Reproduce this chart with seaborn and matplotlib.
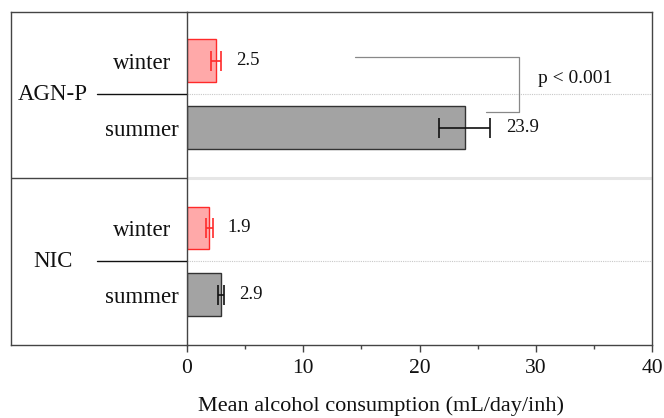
import numpy as np
import pandas as pd
import matplotlib
matplotlib.use("Agg")
import matplotlib.pyplot as plt
import seaborn as sns

# Data
groups = ["AGN-P", "AGN-P", "NIC", "NIC"]
seasons = ["winter", "summer", "winter", "summer"]
means = [2.5, 23.9, 1.9, 2.9]
errors = [0.4, 2.2, 0.3, 0.25]
group_names = ["AGN-P", "NIC"]
xticks = [0, 10, 20, 30, 40]
p_label = "p < 0.001"
xlabel = "Mean alcohol consumption (mL/day/inh)"

sns.set_theme(style="white")
plt.rcParams["font.family"] = ["Liberation Serif", "DejaVu Serif"]
plt.rcParams["mathtext.fontset"] = "stix"

# slot positions: two bars per group, a wider gap between groups
group_gap = 2.5
pos = [group_names.index(g) * group_gap + (0 if s == "winter" else 1)
       for g, s in zip(groups, seasons)]
df = pd.DataFrame({"group": groups, "season": seasons, "mean": means,
                   "err": errors, "pos": pos})

fill = {"winter": "#ffa9a9", "summer": "#a3a3a3"}
edge = {"winter": "#ff2a2a", "summer": "#333333"}
ecol = {"winter": "#ff2a2a", "summer": "#111111"}
spine_c = "#444444"

W, H = 664, 418
fig = plt.figure(figsize=(W / 100, H / 100), dpi=100)
x0, x1, y0, y1 = 187, 652, 12, 345
xl = 11
ax = fig.add_axes([x0 / W, 1 - y1 / H, (x1 - x0) / W, (y1 - y0) / H])
lax = fig.add_axes([xl / W, 1 - y1 / H, (x0 - xl) / W, (y1 - y0) / H])

sns.barplot(data=df, x="mean", y="pos", hue="season", orient="h",
            native_scale=True, dodge=False, width=0.64, errorbar=None,
            hue_order=["winter", "summer"], palette=fill, legend=False,
            linewidth=1.0, ax=ax)
for cont, s in zip(ax.containers, ["winter", "summer"]):
    for patch in cont:
        patch.set_edgecolor(edge[s])
        patch.set_facecolor(fill[s])

for _, r in df.iterrows():
    ax.errorbar(r["mean"], r["pos"], xerr=r["err"], fmt="none",
                ecolor=ecol[r["season"]], elinewidth=1.2, capsize=7.5,
                capthick=1.2, zorder=4)
    ax.annotate(f"{r['mean']:.1f}", xy=(r["mean"] + r["err"], r["pos"]),
                xytext=(11, 0), textcoords="offset points",
                ha="left", va="center", fontsize=13.5, color="#111111")

ylim = (4.25, -0.73)
ax.set_xlim(0, 40)
ax.set_ylim(*ylim)

# group centre lines and separator
centers = [i * group_gap + 0.5 for i in range(len(group_names))]
sep = (1 + group_gap) / 2
for c in centers:
    ax.axhline(c, color="#c8c8c8", lw=0.8, ls=(0, (1, 1)), zorder=0)
ax.axhline(sep, color="#e6e6e6", lw=2.2, zorder=0)

# significance bracket
ax.plot([14.45, 28.55, 28.55, 25.7], [-0.05, -0.05, 0.76, 0.76],
        color="#888888", lw=0.9, zorder=3)
ax.text(30.2, 0.26, p_label, fontsize=14, ha="left", va="center",
        color="#111111")

ax.set_xticks(xticks)
ax.set_xticklabels([str(t) for t in xticks], fontsize=15.5, color="#111111")
ax.set_xticks([5, 15, 25, 35], minor=True)
ax.tick_params(axis="x", which="major", direction="out", length=5, width=1,
               color=spine_c, pad=5, bottom=True)
ax.tick_params(axis="x", which="minor", direction="out", length=3, width=1,
               color=spine_c, bottom=True)
ax.set_yticks(pos)
ax.set_yticklabels(seasons, fontsize=16.5, color="#111111")
for lab in ax.get_yticklabels():
    lab.set_horizontalalignment("center")
ax.tick_params(axis="y", length=0, pad=32.5)
ax.set_xlabel("")
ax.set_ylabel("")
for sp in ax.spines.values():
    sp.set_color(spine_c)
    sp.set_linewidth(1.0)
    sp.set_visible(True)

# left label panel
lax.set_xlim(0, 1)
lax.set_ylim(*ylim)
lax.set_xticks([])
lax.set_yticks([])
lax.patch.set_alpha(0)
for name, sp in lax.spines.items():
    sp.set_color(spine_c)
    sp.set_linewidth(1.0)
    sp.set_visible(name in ("left", "top", "bottom"))
lax.axhline(sep, color=spine_c, lw=1.0)
line_start = (97 - xl) / (x0 - xl)
label_x = (53 - xl) / (x0 - xl)
for c, g in zip(centers, group_names):
    lax.plot([line_start, 1], [c, c], color="#111111", lw=1.0)
    lax.text(label_x, c, g, fontsize=16.5, ha="center", va="center",
             color="#111111")

fig.text(381 / W, 1 - 406 / H, xlabel, fontsize=16, ha="center",
         va="center", color="#111111")

fig.savefig("out.png", dpi=100, facecolor="white")
